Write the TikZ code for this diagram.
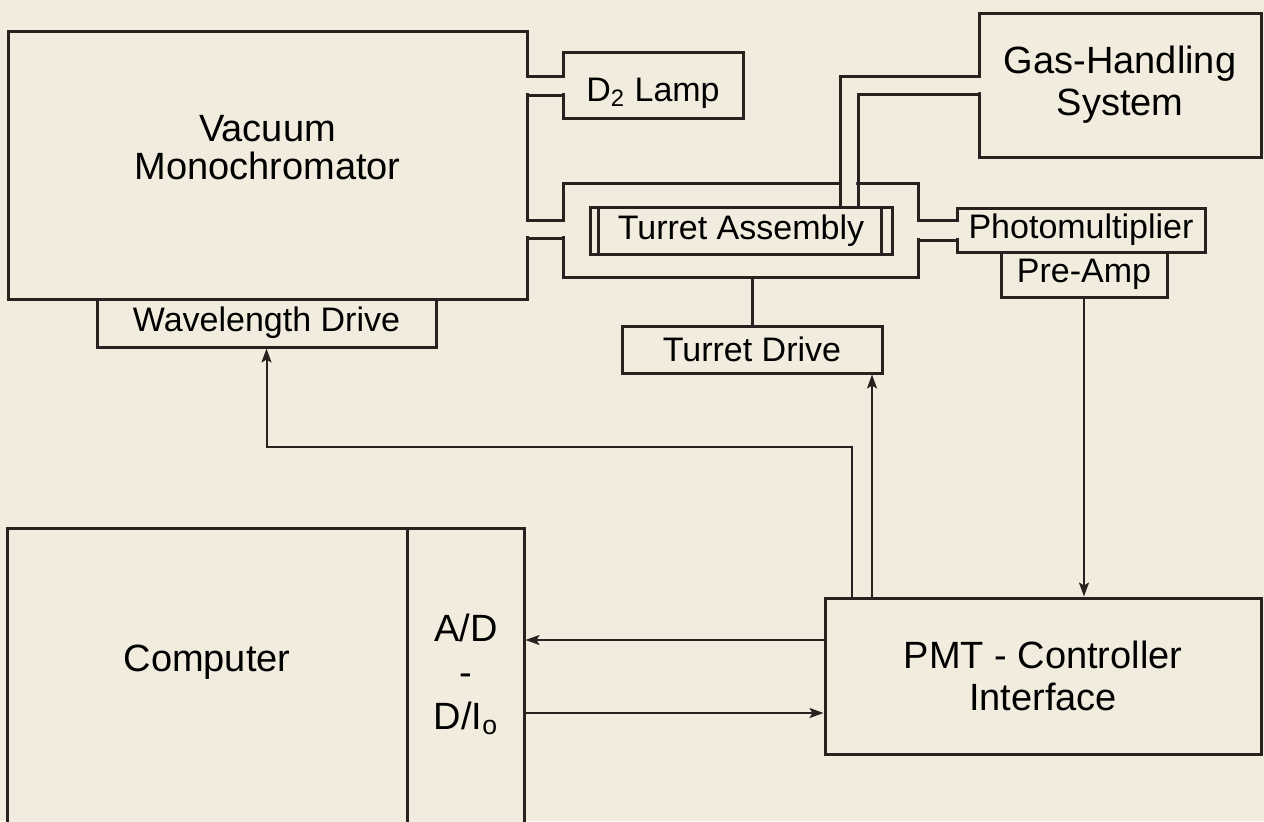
\documentclass[tikz,border=0pt]{standalone}
\usepackage{fontspec}
\setmainfont{Liberation Sans}
\usetikzlibrary{arrows.meta,fit,calc}

\definecolor{paper}{HTML}{F2ECDE}
\definecolor{ink}{HTML}{2A2020}

\begin{document}
\begin{tikzpicture}[x=0.5pt, y=-0.5pt,
  box/.style={draw=ink, line width=1.5pt, fill=paper, inner sep=0pt, align=center,
    font=\fontsize{19}{21}\selectfont},
  small/.style={font=\fontsize{17}{19}\selectfont},
  wh/.style 2 args={minimum width=#1*0.5pt, minimum height=#2*0.5pt},
  pipe/.style={draw=ink, line width=1.5pt},
  arr/.style={draw=ink, line width=1pt, -{Stealth[length=7pt, width=5pt, inset=1.5pt]}},
]
  % Paper and frame.
  \fill[paper] (0,0) rectangle (1264,821);
  \useasboundingbox (0,0) rectangle (1264,821);
  \clip (0,0) rectangle (1264,821);

  % Optical bench.
  \node[box, wh={519}{268}, text depth=18pt] (mono) at (267.5,165) {Vacuum\\[-2pt]Monochromator};
  \node[box, small, wh={339}{48}] (wdrive) at (266.5,323) {Wavelength Drive};
  \node[box, small, wh={180}{66}, text height=20pt] (lamp) at (653,85) {D\textsubscript{2} Lamp};
  \node[box, wh={282}{144}] (gas) at (1120,85) {Gas-Handling\\System};
  \node[box, wh={355}{94}] (housing) at (740.5,230) {};
  \node[box, small, wh={248}{44}] (pmult) at (1081,230) {Photomultiplier};
  \node[box, small, wh={166}{45}] (preamp) at (1084,274.5) {Pre-Amp};
  \node[box, small, wh={260}{47}] (tdrive) at (752,349.5) {Turret Drive};

  % Pipes between the vessels.
  \fill[paper] (524,78) rectangle (566,93);
  \draw[pipe] (527,76) -- (563,76) (527,95) -- (563,95);
  \fill[paper] (524,222) rectangle (566,236);
  \draw[pipe] (527,220) -- (563,220) (527,238) -- (563,238);
  \fill[paper] (915,222) rectangle (960,238);
  \draw[pipe] (918,220) -- (957,220) (918,240) -- (957,240);
  \fill[paper] (982,78) -- (842,78) -- (842,205) -- (856,205) -- (856,92) -- (982,92) -- cycle;
  \draw[pipe] (979,76) -- (840,76) -- (840,207) (979,94) -- (858,94) -- (858,207);

  \node[box, small, wh={302}{47}] (turret) at (741,230.5) {Turret Assembly};
  \draw[pipe] ([xshift=5pt]turret.north west) -- ([xshift=5pt]turret.south west)
    ([xshift=-6pt]turret.north east) -- ([xshift=-6pt]turret.south east);

  % Electronics.
  \node[box, wh={436}{156}] (pmt) at (1043,676) {PMT - Controller\\Interface};
  \node[box, fit={(7,528) (407,850)}] (comp) {};
  \node[box, fit={(407,528) (524,850)}] (adc) {};
  \node[font=\fontsize{19}{21}\selectfont] (comptext) at (207,662) {Computer};
  \node[align=center, font=\fontsize{19}{22}\selectfont] (adctext) at (466,674)
    {A/D\\-\\D/I\textsubscript{o}};

  % Signal lines.
  \coordinate (wlbend) at (852,447);
  \coordinate (tdx) at (872,0);
  \coordinate (ady) at (0,640);
  \coordinate (day) at (0,713);
  \draw[pipe] (tdrive.north) -- (tdrive.north |- housing.south);
  \draw[arr] (preamp.south) -- (preamp.south |- pmt.north);
  \draw[arr] (pmt.north -| wlbend) -- (wlbend) -| (wdrive.south);
  \draw[arr] (pmt.north -| tdx) -- (tdrive.south -| tdx);
  \draw[arr] (pmt.west |- ady) -- (adc.east |- ady);
  \draw[arr] (adc.east |- day) -- (pmt.west |- day);
\end{tikzpicture}
\end{document}
